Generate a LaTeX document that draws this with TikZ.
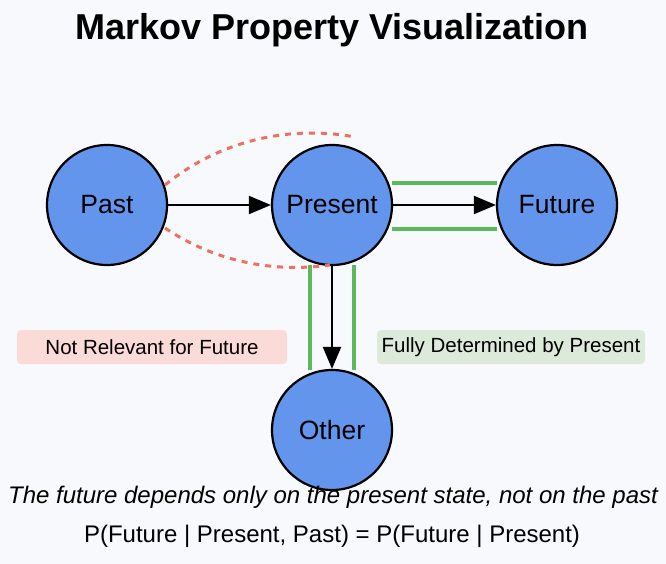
\documentclass[tikz,border=0pt]{standalone}
\usepackage{fontspec}
\setmainfont{Liberation Sans}
\usetikzlibrary{arrows.meta}
\definecolor{bg}{HTML}{F7F9FC}
\definecolor{nodeblue}{HTML}{6495ED}
\definecolor{redd}{HTML}{F07060}
\definecolor{grn}{HTML}{5CB85C}
\definecolor{pinkbox}{HTML}{FADBD8}
\definecolor{grnbox}{HTML}{DCEBD9}
\begin{document}
\begin{tikzpicture}[x=1pt,y=-1pt,
  st/.style={circle,draw=black,line width=2.2pt,fill=nodeblue,minimum size=120pt,inner sep=0pt,font=\fontsize{26.5}{30}\selectfont},
  arr/.style={-{Triangle[length=22pt,width=18pt]},line width=2pt},
  gl/.style={grn,line width=3.5pt},
  rd/.style={redd,line width=3pt,dash pattern=on 6pt off 6pt},
  lab/.style={rounded corners=4pt,minimum height=34pt,font=\fontsize{20.5}{24}\selectfont}]
\fill[bg] (0,0) rectangle (666,564);
\useasboundingbox (0,0) rectangle (666,564);
\node (title) at (332,30) {\fontsize{36}{40}\selectfont\bfseries Markov Property Visualization};
\draw[gl] (392,183) -- (497,183);
\draw[gl] (392,229) -- (497,229);
\draw[gl] (310,265) -- (310,370);
\draw[gl] (354,265) -- (354,370);
\node[st] (past) at (107,205) {Past};
\node[st] (present) at (332,205) {Present};
\node[st] (future) at (557,205) {Future};
\node[st] (other) at (332,430) {Other};
\draw[rd] (165,185) .. controls (220,140) and (290,125) .. (355,137);
\draw[rd] (165,228) .. controls (220,265) and (280,272) .. (330,265);
\draw[arr] (past) -- (present);
\draw[arr] (present) -- (future);
\draw[arr] (present) -- (other);
\node[lab,fill=pinkbox,minimum width=270pt] (nr) at (152,347) {Not Relevant for Future};
\node[lab,fill=grnbox,minimum width=268pt] (fd) at (511,347) {Fully Determined by Present};
\node (t1) at (333,497) {\fontsize{24}{28}\selectfont\itshape The future depends only on the present state, not on the past};
\node (t2) at (332,536) {\fontsize{24}{28}\selectfont P(Future | Present, Past) = P(Future | Present)};
\end{tikzpicture}
\end{document}
